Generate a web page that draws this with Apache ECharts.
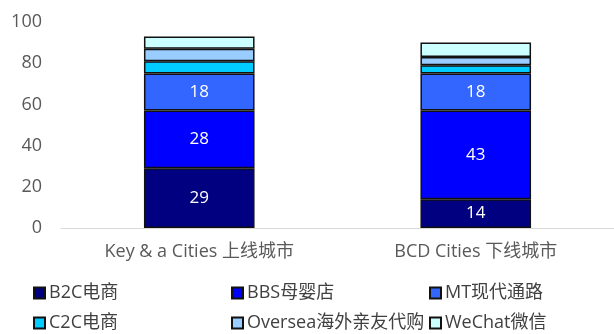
<!DOCTYPE html>
<html>
<head>
<meta charset="utf-8">
<script src="https://cdn.jsdelivr.net/npm/echarts@6/dist/echarts.min.js"></script>
<style>
  html, body { margin: 0; padding: 0; background: #fff; }
  #chart { width: 614px; height: 334px; }
</style>
</head>
<body>
<div id="chart"></div>
<script>
// Channel mix by city tier (%)
const categories = ['Key & a Cities 上线城市', 'BCD Cities 下线城市'];
const seriesNames = ['B2C电商', 'BBS母婴店', 'MT现代通路', 'C2C电商', 'Oversea海外亲友代购', 'WeChat微信'];
const b2c = [29, 14];
const bbs = [28, 43];
const mt = [18, 18];
const c2c = [6, 4];
const oversea = [6, 4];
const wechat = [6, 7];
const yTicks = [0, 20, 40, 60, 80, 100];

const values = [b2c, bbs, mt, c2c, oversea, wechat];
const colors = ['#000080', '#0000FF', '#3366FF', '#00CCFF', '#99CCFF', '#CCFFFF'];
const labelled = [true, true, true, false, false, false];
const FONT = "'Open Sans', 'Noto Sans CJK SC', sans-serif";

const chart = echarts.init(document.getElementById('chart'));

const series = seriesNames.map((name, i) => ({
  name: name,
  type: 'bar',
  stack: 'total',
  barWidth: '40%',
  data: values[i],
  itemStyle: { color: colors[i], borderColor: '#111', borderWidth: 1.5 },
  label: {
    show: labelled[i],
    position: 'inside',
    color: '#fff',
    fontSize: 17,
    fontFamily: FONT
  },
  emphasis: { disabled: true }
}));

// Legend: one component per entry, placed on a 3 x 2 grid
const legendX = [33, 231, 429];
const legendY = [284, 314];
const legend = seriesNames.map((name, i) => ({
  left: legendX[i % 3],
  top: legendY[Math.floor(i / 3)],
  padding: 0,
  itemWidth: 11,
  itemHeight: 11,
  itemGap: 0,
  icon: 'rect',
  data: [name],
  textStyle: { color: '#404040', fontSize: 18, fontFamily: FONT, padding: [0, 0, 0, -1] },
  selectedMode: false
}));

chart.setOption({
  animation: false,
  grid: { left: 61, right: 0, top: 22, bottom: 106 },
  legend: legend,
  xAxis: {
    type: 'category',
    data: categories,
    axisTick: { show: false },
    axisLine: { lineStyle: { color: '#d9d9d9', width: 1 } },
    axisLabel: { color: '#595959', fontSize: 18, fontFamily: FONT, margin: 15 }
  },
  yAxis: {
    type: 'value',
    min: yTicks[0],
    max: yTicks[yTicks.length - 1],
    interval: yTicks[1] - yTicks[0],
    splitLine: { show: false },
    axisLine: { show: false },
    axisTick: { show: false },
    axisLabel: { color: '#595959', fontSize: 18, fontFamily: FONT, margin: 19 }
  },
  series: series
});
</script>
</body>
</html>
